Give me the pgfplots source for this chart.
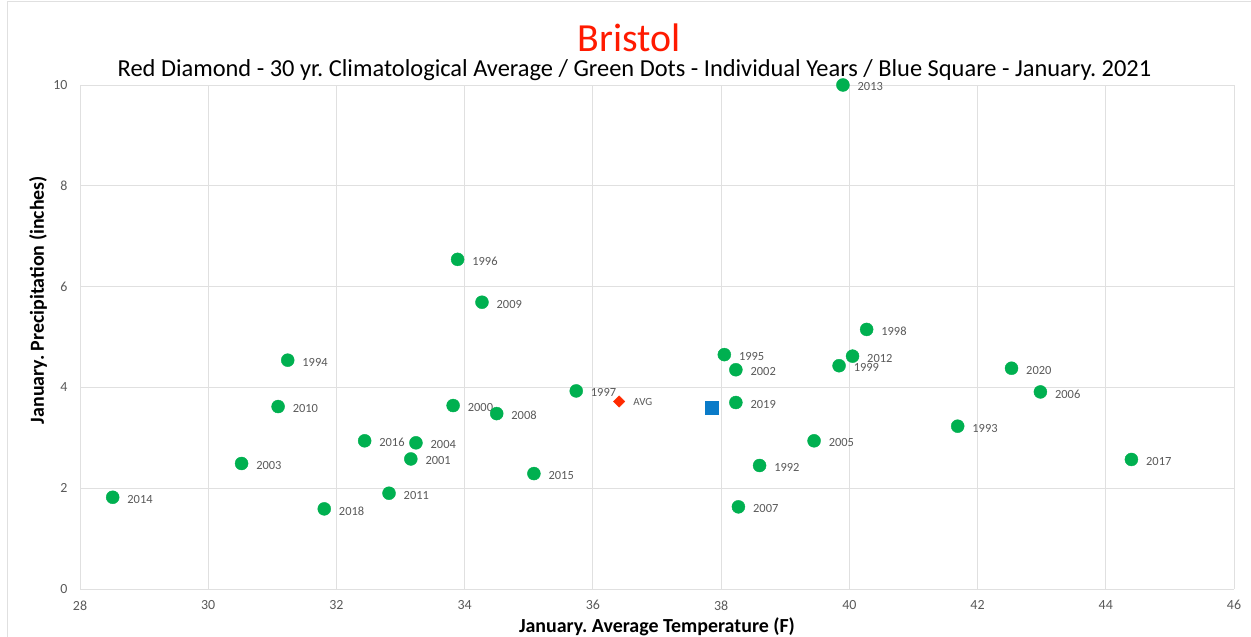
\documentclass[border=0pt]{standalone}
\usepackage{fontspec}
\setmainfont{Carlito}
\usepackage{pgfplots}
\usepackage{pgfplotstable}
\pgfplotsset{compat=1.18}
\frenchspacing
\definecolor{gridc}{HTML}{E0E0E0}
\definecolor{tickc}{HTML}{595959}
\definecolor{ptgreen}{HTML}{00B050}
\definecolor{avgred}{HTML}{FF2A00}
\definecolor{titlered}{HTML}{FF1A00}
\definecolor{sqblue}{HTML}{0A7BC8}
\pgfplotstableread{
x y lab
38.60 2.45 1992
41.69 3.23 1993
31.24 4.54 1994
38.05 4.65 1995
33.89 6.54 1996
35.74 3.93 1997
40.27 5.15 1998
39.84 4.43 1999
33.82 3.64 2000
33.16 2.58 2001
38.23 4.35 2002
30.52 2.49 2003
33.24 2.90 2004
39.45 2.94 2005
42.98 3.91 2006
38.27 1.63 2007
34.50 3.48 2008
34.27 5.69 2009
31.09 3.62 2010
32.82 1.90 2011
40.05 4.62 2012
39.90 10.00 2013
28.51 1.82 2014
35.08 2.29 2015
32.44 2.94 2016
44.40 2.57 2017
31.81 1.59 2018
38.23 3.70 2019
42.53 4.38 2020
}\years
\begin{document}
\begin{tikzpicture}
\begin{axis}[
  anchor=south west,
  scale only axis, width=1154bp, height=504bp,
  xmin=28, xmax=46, ymin=0, ymax=10,
  xtick={28,30,...,46}, ytick={0,2,...,10},
  grid=major, grid style={draw=gridc, line width=0.8bp},
  axis line style={draw=none},
  tick style={draw=none},
  clip=false,
  /pgf/number format/assume math mode=true,
  ticklabel style={font=\fontsize{14}{14}\selectfont, text=tickc},
  xticklabel style={anchor=north, yshift=-8bp},
  yticklabel style={anchor=east, xshift=-9bp},
]
\addplot[only marks, mark=*, mark size=6.5bp, mark options={draw=ptgreen, fill=ptgreen},
  nodes near coords, point meta=explicit symbolic,
  every node near coord/.style={anchor=west, inner sep=0pt, xshift=14.5bp, yshift=-2bp,
    font=\fontsize{12.5}{12.5}\selectfont, text=tickc}]
  table[x=x, y=y, meta=lab] {\years};
\addplot[only marks, mark=square*, mark size=4bp, mark options={rotate=45, draw=avgred, fill=avgred},
  nodes near coords, point meta=explicit symbolic,
  every node near coord/.style={anchor=west, inner sep=0pt, xshift=14bp, yshift=0bp,
    font=\fontsize{11}{11}\selectfont, text=tickc}]
  coordinates {(36.41,3.72) [AVG]};
\addplot[only marks, mark=square*, mark size=6.3bp, mark options={draw=sqblue, fill=sqblue}]
  coordinates {(37.85,3.60)};
\end{axis}
\begin{scope}[x=1bp,y=1bp,shift={(-80bp,-48bp)}]
\path[use as bounding box] (0,0) rectangle (1251,637);
\draw[gridc, line width=0.8bp] (7,0) -- (7,636) -- (1251,636);
\node[text=titlered, font=\fontsize{40}{40}\selectfont] at (629,599) {Bristol};
\node[font=\fontsize{24.5}{24.5}\selectfont] at (634.5,567) {Red Diamond - 30 yr. Climatological Average / Green Dots - Individual Years / Blue Square - January. 2021};
\node[font=\bfseries\fontsize{20}{20}\selectfont] at (657,10) {January. Average Temperature (F)};
\node[font=\bfseries\fontsize{20}{20}\selectfont, rotate=90] at (38,337) {January. Precipitation (inches)};
\end{scope}
\end{tikzpicture}
\end{document}
